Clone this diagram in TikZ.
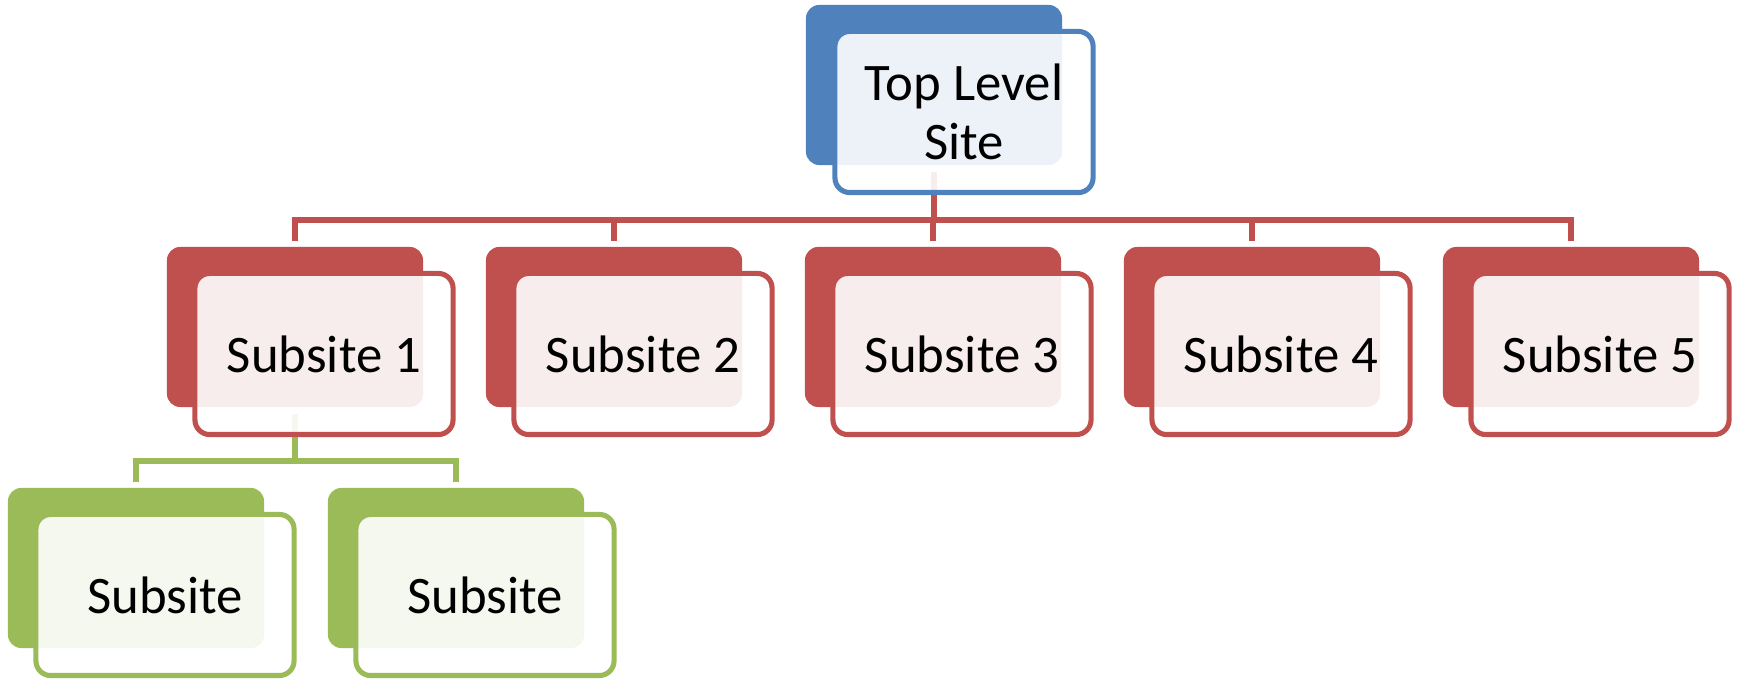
\documentclass[tikz,border=0pt]{standalone}
\usepackage{fontspec}
\setmainfont{Carlito}
\usetikzlibrary{calc}
\definecolor{accblue}{HTML}{4F81BD}
\definecolor{accred}{HTML}{C0504D}
\definecolor{accgreen}{HTML}{9BBB59}
\begin{document}
\begin{tikzpicture}[x=0.01cm,y=-0.01cm,
  backbox/.style={rectangle, rounded corners=3.8pt, minimum width=2.56cm,
    minimum height=1.6cm, inner sep=0pt, draw=none, fill=#1},
  frontbox/.style={rectangle, rounded corners=4.2pt, minimum width=2.58cm,
    minimum height=1.61cm, inner sep=0pt, draw=#1, line width=1.45pt,
    fill=white, fill opacity=0.9, text opacity=1,
    font=\fontsize{15}{16.8}\selectfont, align=center},
  conn/.style={draw=#1, line width=1.45pt},
]
\useasboundingbox (0,0) rectangle (1740,680);

% coloured back plates
\node[backbox=accblue]  (tb)  at (934,85)  {};
\node[backbox=accred]   (s1b) at (295,327) {};
\node[backbox=accred]   (s2b) at (614,327) {};
\node[backbox=accred]   (s3b) at (933,327) {};
\node[backbox=accred]   (s4b) at (1252,327) {};
\node[backbox=accred]   (s5b) at (1571,327) {};
\node[backbox=accgreen] (g1b) at (136,568) {};
\node[backbox=accgreen] (g2b) at (456,568) {};

% bus lines
\coordinate (rbus) at (934,220);
\coordinate (gbus) at (295,461);
\draw[conn=accred, shorten <=0.6mm] (tb.south) -- (tb.south |- rbus);
\foreach \s in {s1b,s2b,s3b,s4b,s5b}
  \draw[conn=accred, shorten >=0.5mm] (tb.south |- rbus) -| (\s.north);
\draw[conn=accgreen, shorten <=0.6mm] (s1b.south) -- (s1b.south |- gbus);
\foreach \g in {g1b,g2b}
  \draw[conn=accgreen, shorten >=0.5mm] (s1b.south |- gbus) -| (\g.north);

% outlined front cards with labels
\node[frontbox=accblue]  (t)  at (964,112)  {Top Level\\Site};
\node[frontbox=accred]   (s1) at (324,354)  {Subsite 1};
\node[frontbox=accred]   (s2) at (643,354)  {Subsite 2};
\node[frontbox=accred]   (s3) at (962,354)  {Subsite 3};
\node[frontbox=accred]   (s4) at (1281,354) {Subsite 4};
\node[frontbox=accred]   (s5) at (1600,354) {Subsite 5};
\node[frontbox=accgreen] (g1) at (165,595)  {Subsite};
\node[frontbox=accgreen] (g2) at (485,595)  {Subsite};
\end{tikzpicture}
\end{document}
